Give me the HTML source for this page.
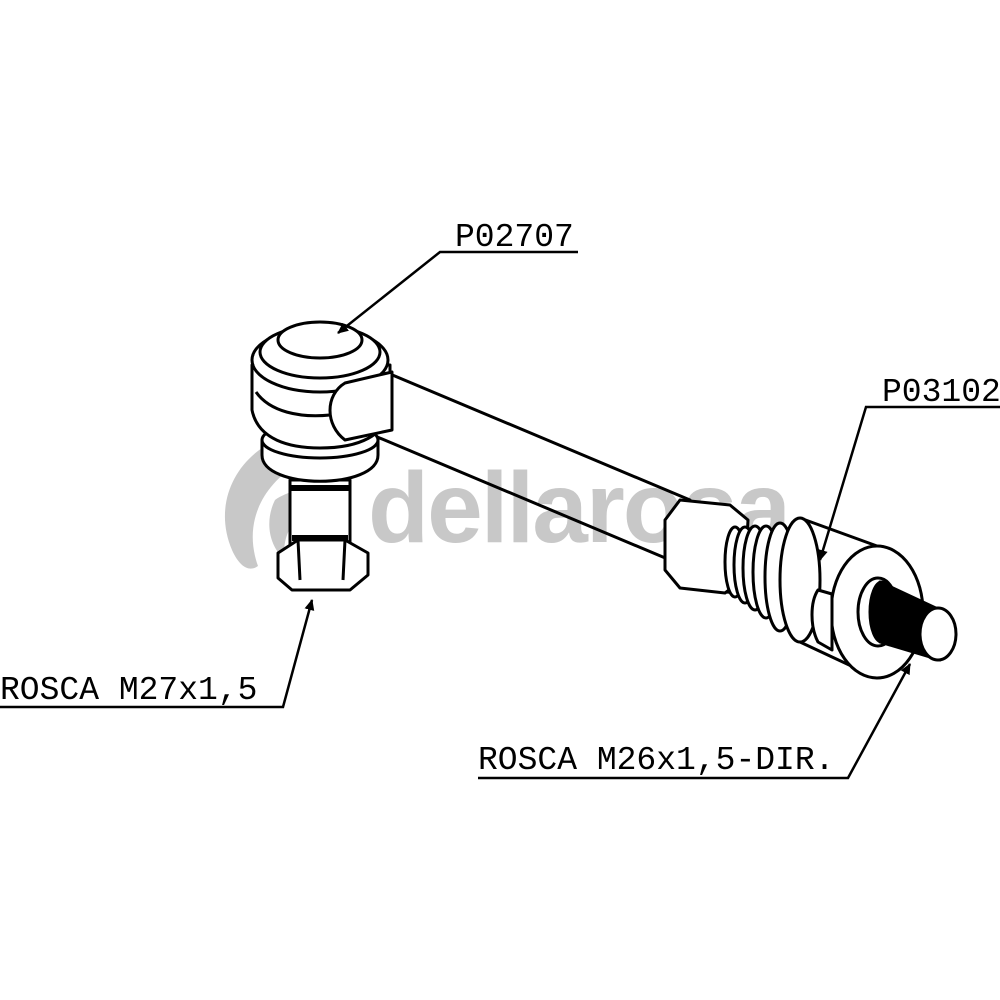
<!DOCTYPE html>
<html><head><meta charset="utf-8"><style>
html,body{margin:0;padding:0;background:#fff;width:1000px;height:1000px;overflow:hidden}
svg{display:block}
text.l{font-family:"Liberation Mono",monospace;font-size:33px;fill:#000}
</style></head><body>
<svg width="1000" height="1000" viewBox="0 0 1000 1000" xmlns="http://www.w3.org/2000/svg">
<defs><marker id="a" markerWidth="12" markerHeight="12" refX="10" refY="5" orient="auto" markerUnits="userSpaceOnUse"><path d="M0,0 L11,5 L0,10 z" fill="#000"/></marker></defs>

<g fill="#c8c8c8">
<path d="M262,448 C230,470 215,510 232,550 C240,568 250,572 258,566 C245,530 255,490 300,462 C330,445 360,440 380,445 C340,425 295,428 262,448 z"/>
<path d="M275,500 C265,520 268,545 285,560 C280,530 300,505 345,490 C320,485 292,488 275,500 z"/>
<text x="368" y="542" font-family="Liberation Sans,sans-serif" font-weight="bold" font-size="100" letter-spacing="-2">dellarosa</text>
</g>

<g stroke="#000" stroke-width="3" fill="#fff" stroke-linejoin="round">
<path d="M390,374 L690,500 L670,560 L375,436" fill="none"/>
<path d="M290,480 L290,545 L350,545 L350,480 z"/>
<path d="M290,488 L350,488" stroke-width="6"/>
<path d="M292,538 L348,538" stroke-width="6"/>
<path d="M278,553 L298,540 L345,540 L368,553 L368,575 L350,590 L292,590 L278,578 z"/>
<path d="M298,540 L300,580 M345,540 L343,580" fill="none"/>
<path d="M262,455 C262,490 378,490 378,455 L378,440 L262,440 z"/>
<ellipse cx="320" cy="440" rx="58" ry="18"/>
<path d="M252,365 L252,410 C258,440 290,448 320,448 C360,448 385,435 390,410 L390,365 z"/>
<path d="M256,392 C270,412 300,418 330,415" fill="none"/>
<ellipse cx="320" cy="360" rx="68" ry="32"/>
<ellipse cx="320" cy="352" rx="60" ry="26"/>
<ellipse cx="320" cy="340" rx="42" ry="18"/>
<path d="M345,383 L392,372 L392,430 L345,440 C325,425 325,395 345,383 z"/>
<path d="M700,525 L765,530 L765,595 L700,590 z" fill="#000"/>
<path d="M665,520 L680,500 L730,505 L748,520 L745,578 L725,593 L680,588 L665,570 z"/>
<ellipse cx="735" cy="562" rx="10" ry="35"/>
<ellipse cx="745" cy="565" rx="11" ry="38"/>
<ellipse cx="755" cy="568" rx="12" ry="42"/>
<ellipse cx="766" cy="572" rx="13" ry="46"/>
<ellipse cx="780" cy="577" rx="15" ry="54"/>
<path d="M800,518 L877,546 L877,678 L800,642 z" stroke="none"/>
<path d="M800,518 L877,546 M800,642 L877,678" fill="none"/>
<ellipse cx="800" cy="580" rx="20" ry="62"/>
<ellipse cx="877" cy="612" rx="46" ry="66"/>
<path d="M818,590 L832,594 L832,650 L818,642 C810,627 810,602 818,590 z"/>
<ellipse cx="878" cy="612" rx="20" ry="34"/>
<path d="M880,582 L940,610 L940,660 L880,642 z" fill="#000"/>
<ellipse cx="882" cy="612" rx="12" ry="30" fill="#000"/>
<ellipse cx="938" cy="634" rx="18" ry="26"/>
</g>

<g stroke="#000" stroke-width="2.5" fill="none">
<path d="M578,252 L440,252 L338,333" marker-end="url(#a)"/>
<path d="M1000,407 L866,407 L820,560" marker-end="url(#a)"/>
<path d="M0,707 L283,707 L312,600" marker-end="url(#a)"/>
<path d="M478,778 L848,778 L910,664" marker-end="url(#a)"/>
</g>
<text class="l" x="455" y="246">P02707</text>
<text class="l" x="882" y="401">P03102</text>
<text class="l" x="0" y="699">ROSCA M27x1,5</text>
<text class="l" x="478" y="769">ROSCA M26x1,5-DIR.</text>
</svg>
</body></html>
